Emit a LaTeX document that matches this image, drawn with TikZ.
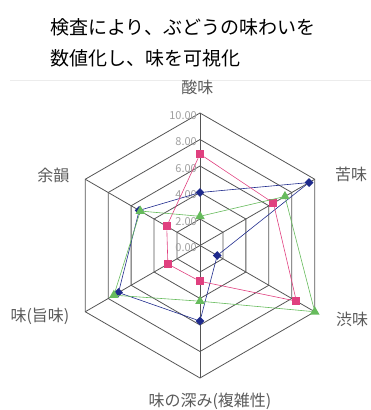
\documentclass[tikz,border=0pt]{standalone}
\usepackage{fontspec}
\setmainfont{Noto Sans CJK JP}
\usepackage{xcolor}
\usetikzlibrary{shapes.geometric}

\definecolor{gridgray}{HTML}{555555}
\definecolor{labgray}{HTML}{5A5A5A}
\definecolor{numgray}{HTML}{A0A0A0}
\definecolor{navy}{HTML}{1E2A8C}
\definecolor{rose}{HTML}{E0407F}
\definecolor{leaf}{HTML}{66BB5C}

\tikzset{
  grid/.style={draw=gridgray, line width=0.8pt},
  axislabel/.style={text=labgray, font=\fontsize{16}{16}\selectfont, inner sep=0pt},
  numlabel/.style={text=numgray, font=\fontsize{11}{11}\selectfont, anchor=east, inner sep=0pt},
  bmark/.style={diamond, fill=navy, inner sep=0pt, minimum size=9pt},
  pmark/.style={rectangle, fill=rose, inner sep=0pt, minimum size=8pt},
  gmark/.style={regular polygon, regular polygon sides=3, fill=leaf, inner sep=0pt, minimum size=11pt},
}

\begin{document}
\begin{tikzpicture}[x=1pt, y=1pt]
        \useasboundingbox (-200,-164.5) rectangle (171,245.5);
        \draw[gray!15] (-190,165.5) -- (171,165.5);

        \node[anchor=west, inner sep=0pt, font=\fontsize{19}{19}\selectfont](title1) at (-150,218) {検査により、ぶどうの味わいを};
        \node[anchor=west, inner sep=0pt, font=\fontsize{19}{19}\selectfont](title2) at (-150,187.5) {数値化し、味を可視化};

        \coordinate(o) at (0,0);
        \coordinate(v1) at (90:132.5);
        \coordinate(v2) at (30:132.5);
        \coordinate(v3) at (-30:132.5);
        \coordinate(v4) at (-90:132.5);
        \coordinate(v5) at (210:132.5);
        \coordinate(v6) at (150:132.5);
        \draw[grid] (90:26.5)--(30:26.5)--(-30:26.5)--(-90:26.5)--(210:26.5)--(150:26.5)--cycle;
        \draw[grid] (90:53)--(30:53)--(-30:53)--(-90:53)--(210:53)--(150:53)--cycle;
        \draw[grid] (90:79.5)--(30:79.5)--(-30:79.5)--(-90:79.5)--(210:79.5)--(150:79.5)--cycle;
        \draw[grid] (90:106)--(30:106)--(-30:106)--(-90:106)--(210:106)--(150:106)--cycle;
        \draw[grid] (v1)--(v2)--(v3)--(v4)--(v5)--(v6)--cycle;
        \draw[grid] (o)--(v1);
        \draw[grid] (o)--(v2);
        \draw[grid] (o)--(v3);
        \draw[grid] (o)--(v4);
        \draw[grid] (o)--(v5);
        \draw[grid] (o)--(v6);

        \node[numlabel](n0) at (-3,-2.5) {0.00};
        \node[numlabel](n2) at (-3,24) {2.00};
        \node[numlabel](n4) at (-3,50.5) {4.00};
        \node[numlabel](n6) at (-3,77) {6.00};
        \node[numlabel](n8) at (-3,103.5) {8.00};
        \node[numlabel](n10) at (-3,130) {10.00};

        \node[axislabel](sour) at (-2.5,158) {酸味};
        \node[axislabel](bitter) at (151,71.5) {苦味};
        \node[axislabel](astr) at (152,-73.5) {渋味};
        \node[axislabel](depth) at (10,-155.5) {味の深み(複雑性)};
        \node[axislabel](umami) at (-160,-70.5) {味(旨味)};
        \node[axislabel](after) at (-146.5,70.5) {余韻};

        \node[bmark](b1) at (90:53) {};
        \node[bmark](b2) at (30:125.9) {};
        \node[bmark](b3) at (-30:19.9) {};
        \node[bmark](b4) at (-90:75.5) {};
        \node[bmark](b5) at (210:94.1) {};
        \node[bmark](b6) at (150:70.2) {};
        \draw[navy, line width=0.6pt] (b1)--(b2)--(b3)--(b4)--(b5)--(b6)--(b1);

        \node[pmark](p1) at (90:91.4) {};
        \node[pmark](p2) at (30:84.8) {};
        \node[pmark](p3) at (-30:111.3) {};
        \node[pmark](p4) at (-90:35.8) {};
        \node[pmark](p5) at (210:37.1) {};
        \node[pmark](p6) at (150:38.4) {};
        \draw[rose, line width=0.6pt] (p1)--(p2)--(p3)--(p4)--(p5)--(p6)--(p1);

        \node[gmark](g1) at (90:29.2) {};
        \node[gmark](g2) at (30:98.1) {};
        \node[gmark](g3) at (-30:132.5) {};
        \node[gmark](g4) at (-90:55.7) {};
        \node[gmark](g5) at (210:99.4) {};
        \node[gmark](g6) at (150:68.9) {};
        \draw[leaf, line width=0.6pt] (g1)--(g2)--(g3)--(g4)--(g5)--(g6)--(g1);
\end{tikzpicture}
\end{document}
